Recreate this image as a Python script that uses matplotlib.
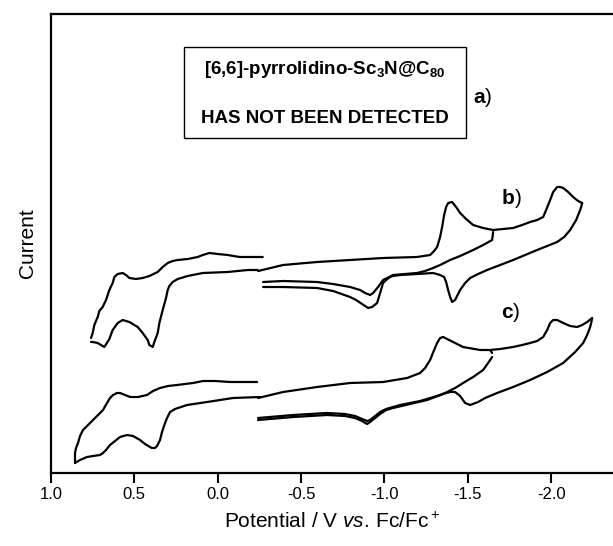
import matplotlib
matplotlib.use("Agg")
import matplotlib.pyplot as plt
from matplotlib.patches import Rectangle

plt.rcParams['font.family'] = ['Liberation Sans', 'DejaVu Sans']
plt.rcParams['axes.unicode_minus'] = False
plt.rcParams['mathtext.fontset'] = 'custom'
plt.rcParams['mathtext.rm'] = 'Liberation Sans'
plt.rcParams['mathtext.it'] = 'Liberation Sans:italic'
plt.rcParams['mathtext.bf'] = 'Liberation Sans:bold'

# potential in V vs Fc/Fc+, current in arbitrary units

# ---- b) oxidation loop
b_ox_fwd_E = [-0.24, -0.18, -0.06, 0.09, 0.18, 0.24, 0.27, 0.29, 0.30, 0.31, 0.33, 0.35, 0.36, 0.38, 0.39,
              0.41, 0.42, 0.45, 0.48, 0.53, 0.57, 0.60, 0.63, 0.65, 0.68, 0.70, 0.72, 0.75, 0.76]
b_ox_fwd_I = [203, 203, 201, 200, 197, 194, 191, 187, 183, 175, 163, 150, 140, 131, 126,
              128, 133, 140, 146, 151, 153, 150, 143, 134, 126, 128, 130, 131, 131]
b_ox_rev_E = [0.76, 0.75, 0.74, 0.72, 0.71, 0.69, 0.67, 0.65, 0.63, 0.62, 0.60, 0.57, 0.55, 0.53, 0.49,
              0.45, 0.41, 0.36, 0.33, 0.30, 0.27, 0.24, 0.18, 0.12, 0.09, 0.05, 0.00, -0.06, -0.13, -0.27]
b_ox_rev_I = [135, 140, 148, 156, 162, 166, 173, 183, 190, 196, 199, 200, 198, 195, 194,
              195, 197, 201, 206, 210, 212, 213, 214, 216, 218, 220, 219, 218, 216, 216]

# ---- b) reduction, common forward scan up to -1.65 V
b_red_fwd_E = [-0.242, -0.392, -0.596, -0.794, -0.992, -1.196, -1.274, -1.298, -1.316, -1.334, -1.346,
               -1.358, -1.370, -1.382, -1.406, -1.430, -1.454, -1.490, -1.532, -1.592, -1.652]
b_red_fwd_I = [202, 208, 211, 213, 215, 216, 218, 222, 226, 236, 246,
               258, 266, 270, 271, 266, 260, 254, 248, 245, 243]
# scan 1 reversed at -1.65 V
b_red_s1_E = [-1.652, -1.646, -1.592, -1.532, -1.454, -1.394, -1.334, -1.292, -1.244, -1.196, -1.124, -1.052,
              -0.992, -0.962, -0.932, -0.914, -0.884, -0.854, -0.794, -0.692, -0.596, -0.392, -0.272]
b_red_s1_I = [241, 233, 228, 223, 217, 213, 208, 205, 202, 200, 199, 198,
              193, 186, 180, 178, 180, 183, 186, 189, 191, 192, 191]
# scan 2 out to -2.2 V
b_red_s2_E = [-1.652, -1.712, -1.772, -1.826, -1.874, -1.916, -1.952, -1.970, -1.994, -2.012, -2.036, -2.054,
              -2.072, -2.102, -2.132, -2.162, -2.186]
b_red_s2_I = [243, 244, 245, 248, 251, 253, 256, 263, 273, 281, 286, 286, 285, 281, 276, 272, 270]
b_red_s2r_E = [-2.186, -2.180, -2.174, -2.150, -2.114, -2.078, -2.036, -1.976, -1.916, -1.844, -1.772, -1.694,
               -1.616, -1.562, -1.514, -1.484, -1.454, -1.436, -1.424, -1.406, -1.394, -1.382, -1.370, -1.358,
               -1.334, -1.292, -1.196, -1.094, -1.052, -1.034, -1.010, -0.992, -0.974, -0.956, -0.926, -0.902,
               -0.866, -0.830, -0.794, -0.692, -0.596, -0.392, -0.272]
b_red_s2r_I = [270, 266, 263, 253, 243, 236, 231, 227, 223, 218, 213, 208,
               203, 199, 195, 190, 183, 177, 173, 171, 176, 183, 191, 196,
               198, 200, 199, 198, 197, 196, 193, 190, 180, 170, 166, 165,
               169, 173, 176, 182, 185, 186, 186]

# ---- c) oxidation loop
c_ox_fwd_E = [-0.254, -0.092, 0.064, 0.184, 0.256, 0.286, 0.304, 0.316, 0.334, 0.346, 0.364, 0.376, 0.394,
              0.406, 0.436, 0.466, 0.508, 0.544, 0.586, 0.616, 0.646, 0.670, 0.688, 0.706, 0.748, 0.784,
              0.826, 0.856]
c_ox_fwd_I = [76, 75, 71, 68, 64, 61, 55, 50, 41, 33, 27, 25, 25,
              26, 29, 33, 37, 38, 36, 32, 28, 23, 20, 18, 17, 16,
              13, 10]
c_ox_rev_E = [0.856, 0.856, 0.850, 0.838, 0.826, 0.808, 0.778, 0.748, 0.718, 0.688, 0.664, 0.646, 0.628,
              0.604, 0.586, 0.556, 0.526, 0.478, 0.424, 0.388, 0.346, 0.298, 0.244, 0.196, 0.148, 0.088,
              0.016, -0.074, -0.236]
c_ox_rev_I = [10, 20, 25, 30, 37, 43, 48, 53, 58, 63, 70, 75, 78,
              80, 80, 78, 76, 76, 78, 82, 85, 87, 88, 89, 90, 92,
              92, 91, 91]

# ---- c) reduction
c_red_fwd_E = [-0.242, -0.392, -0.596, -0.794, -0.992, -1.136, -1.214, -1.244, -1.274, -1.298, -1.316,
               -1.334, -1.352, -1.376, -1.412, -1.472, -1.574, -1.634, -1.646]
c_red_fwd_I = [75, 81, 86, 90, 91, 95, 100, 105, 113, 123, 130,
               135, 136, 134, 131, 126, 123, 123, 120]
c_red_s1_E = [-1.646, -1.622, -1.592, -1.532, -1.472, -1.424, -1.376, -1.334, -1.274, -1.214, -1.154, -1.094,
              -1.052, -1.010, -0.974, -0.944, -0.914, -0.896, -0.866, -0.824, -0.764, -0.656, -0.452, -0.242]
c_red_s1_I = [116, 110, 103, 96, 90, 85, 81, 78, 75, 72, 70, 68,
              66, 64, 61, 57, 53, 52, 54, 57, 59, 60, 58, 55]
c_red_s2_E = [-1.634, -1.694, -1.772, -1.826, -1.874, -1.916, -1.952, -1.976, -1.994, -2.012, -2.036, -2.072,
              -2.114, -2.156, -2.186, -2.216, -2.246]
c_red_s2_I = [123, 124, 126, 128, 130, 132, 136, 143, 150, 153, 153, 150, 147, 146, 148, 151, 155]
c_red_s2r_E = [-2.246, -2.240, -2.234, -2.216, -2.192, -2.144, -2.072, -1.976, -1.874, -1.772, -1.676, -1.604,
               -1.562, -1.514, -1.484, -1.454, -1.424, -1.394, -1.352, -1.304, -1.256, -1.154, -1.052,
               -1.010, -0.974, -0.944, -0.914, -0.896, -0.866, -0.824, -0.764, -0.656, -0.452, -0.242]
c_red_s2r_I = [155, 150, 146, 138, 130, 121, 110, 101, 93, 86, 80, 75,
               71, 68, 70, 77, 81, 81, 79, 76, 73, 69, 65,
               63, 59, 55, 51, 49, 52, 55, 57, 58, 56, 53]

tick_vals = [1.0, 0.5, 0.0, -0.5, -1.0, -1.5, -2.0]
tick_labels = ['1.0', '0.5', '0.0', '-0.5', '-1.0', '-1.5', '-2.0']

fig = plt.figure(figsize=(6.13, 5.46), dpi=100)
ax = fig.add_axes([51 / 613, 73 / 546, 562 / 613, 459 / 546])

curves = [
    (b_ox_fwd_E, b_ox_fwd_I), (b_ox_rev_E, b_ox_rev_I),
    (b_red_fwd_E, b_red_fwd_I), (b_red_s1_E, b_red_s1_I),
    (b_red_s2_E, b_red_s2_I), (b_red_s2r_E, b_red_s2r_I),
    (c_ox_fwd_E, c_ox_fwd_I), (c_ox_rev_E, c_ox_rev_I),
    (c_red_fwd_E, c_red_fwd_I), (c_red_s1_E, c_red_s1_I),
    (c_red_s2_E, c_red_s2_I), (c_red_s2r_E, c_red_s2r_I),
]
for E, I in curves:
    ax.plot(E, I, color='black', lw=1.6, solid_joinstyle='round', solid_capstyle='round')

ax.set_xlim(1.0, -2.371)
ax.set_ylim(0, 459)
ax.set_xticks(tick_vals)
ax.set_xticklabels(tick_labels)
ax.set_yticks([])
ax.tick_params(axis='x', direction='out', length=7, width=1.5, labelsize=12, pad=3)
for side in ['left', 'top', 'bottom']:
    ax.spines[side].set_linewidth(1.6)
ax.spines['right'].set_visible(False)

ax.set_xlabel('Potential / V $\\it{vs.}\\,$Fc/Fc$^+$', fontsize=15, labelpad=7)
ax.set_ylabel('Current', fontsize=15, labelpad=10)

# annotation box
ax.add_patch(Rectangle((0.2367, 0.730), 0.502, 0.198, transform=ax.transAxes,
                       fill=False, edgecolor='black', lw=1.0))
ax.text(0.4875, 0.878, '[6,6]-pyrrolidino-Sc$_\\mathbf{3}$N@C$_\\mathbf{80}$', transform=ax.transAxes,
        ha='center', va='center', fontsize=13.5, fontweight='bold')
ax.text(0.4875, 0.773, 'HAS NOT BEEN DETECTED', transform=ax.transAxes,
        ha='center', va='center', fontsize=13.5, fontweight='bold')

for lab, xf, yf in [('a', 0.773, 0.818), ('b', 0.825, 0.599), ('c', 0.822, 0.349)]:
    ax.text(xf, yf, lab, transform=ax.transAxes, ha='right', va='center', fontsize=15, fontweight='bold')
    ax.text(xf, yf, ')', transform=ax.transAxes, ha='left', va='center', fontsize=15)

fig.savefig('out.png', dpi=100)
